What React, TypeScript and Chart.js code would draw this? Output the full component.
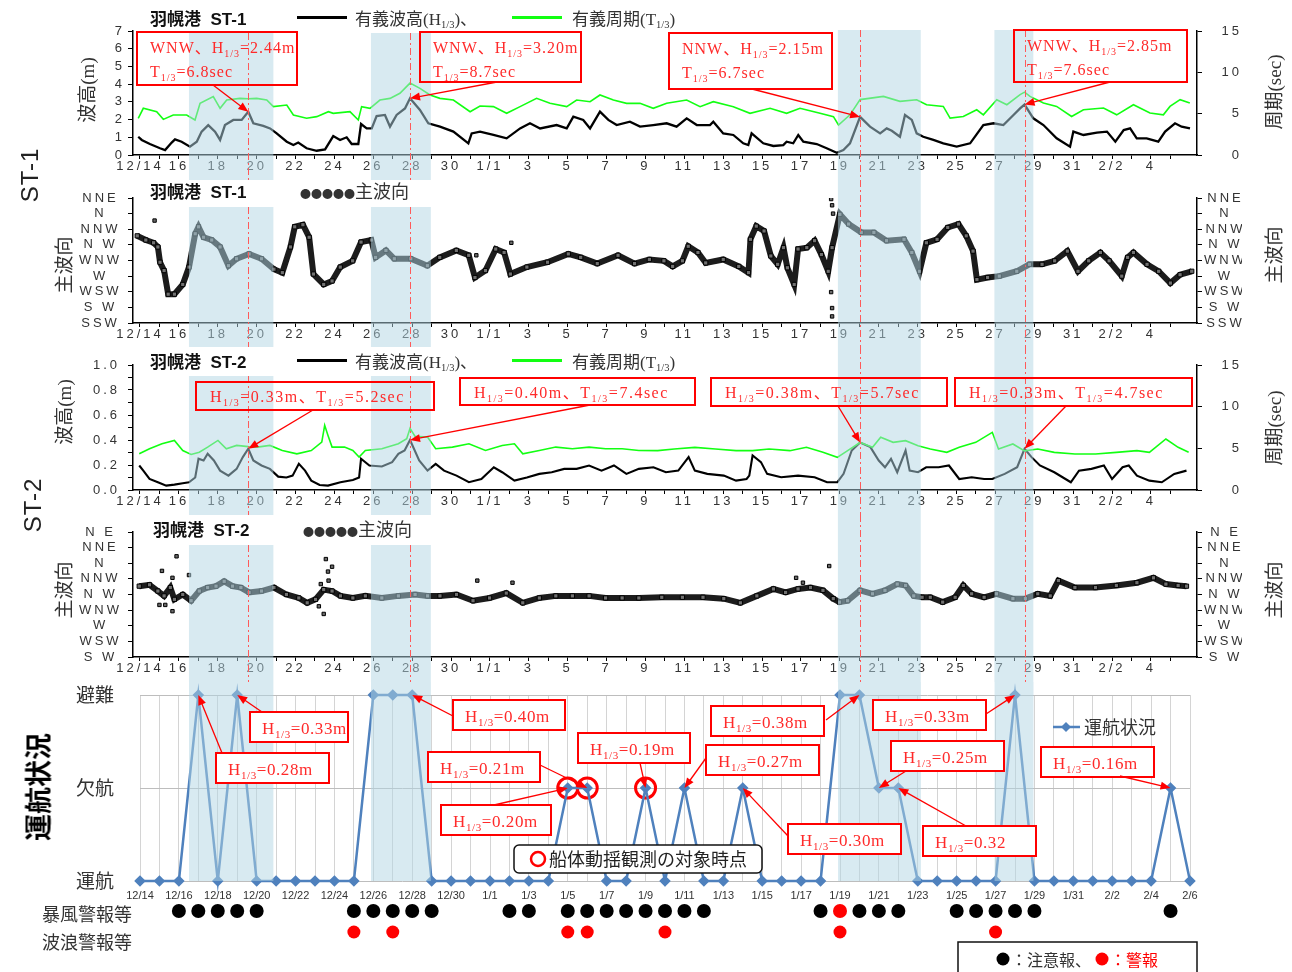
import React, { useEffect, useRef } from 'react';
import { Chart, registerables } from 'chart.js';

Chart.register(...registerables);

// ======================= DATA =======================
// x = days after 12/14 00:00

const st1WaveHeight: [number, number][] = [
  [-0.09,1.03],[0.09,0.85],[0.51,0.62],[1.03,0.38],[1.29,0.28],[1.63,0.70],[1.80,0.88],[2.14,0.75],[2.57,0.47],[2.92,0.75],
  [3.17,1.32],[3.51,1.69],[3.86,1.32],[4.12,0.85],[4.37,1.69],[4.80,1.98],[5.23,1.98],[5.57,2.44],[5.83,1.79],[6.34,1.64],
  [6.69,1.50],[7.03,1.22],[7.55,0.75],[7.89,0.56],[8.14,0.70],[8.57,0.38],[9.09,0.24],[9.52,0.32],[9.94,1.07],[10.29,0.85],
  [10.63,1.00],[10.89,0.62],[11.23,0.62],[11.37,1.75],[11.66,1.50],[11.92,1.50],[12.17,2.20],[12.60,2.26],[12.86,1.60],[13.20,2.26],
  [13.63,2.63],[13.89,3.20],[14.40,2.54],[14.83,1.79],[15.43,1.60],[16.12,1.32],[16.89,0.66],[17.06,1.22],[17.49,1.32],[18.18,1.13],
  [18.86,0.94],[19.55,1.50],[20.06,1.79],[20.58,1.50],[21.43,1.69],[21.95,1.50],[22.29,2.16],[22.80,1.98],[23.15,1.50],[23.66,2.45],
  [24.09,1.98],[24.52,1.69],[25.20,1.88],[25.72,1.60],[26.40,1.69],[27.09,1.79],[27.60,1.60],[28.12,2.07],[28.64,1.69],[29.32,1.69],
  [29.49,1.88],[30.00,1.22],[30.52,1.13],[31.03,0.66],[31.29,0.56],[31.46,1.22],[32.06,0.66],[32.58,0.51],[33.09,0.56],[33.26,0.75],
  [33.60,0.66],[33.86,1.13],[34.12,0.75],[34.81,0.62],[35.32,0.38],[35.84,0.13],[36.18,0.28],[36.52,0.66],[37.04,2.15],[37.55,1.60],
  [38.07,1.22],[38.41,1.50],[38.67,1.37],[39.09,1.03],[39.35,2.26],[39.70,1.98],[39.95,1.22],[40.29,1.03],[40.81,0.85],[41.32,0.66],
  [42.01,0.47],[42.70,0.66],[43.38,1.69],[43.90,1.79],[44.41,1.69],[44.93,2.26],[45.27,2.63],[45.50,2.85],[45.95,2.07],[46.47,1.69],
  [47.15,0.94],[47.84,0.47],[48.01,1.32],[48.53,1.13],[49.22,1.26],[49.74,1.32],[50.17,0.75],[50.60,1.41],[50.93,1.50],[51.27,0.94],
  [51.78,0.94],[52.38,0.75],[52.73,1.32],[53.24,1.79],[53.58,1.60],[54.01,1.50],
];

const st1WavePeriod: [number, number][] = [
  [-0.09,4.44],[0.17,5.65],[0.86,5.24],[1.20,4.31],[1.71,4.84],[2.40,4.84],[2.83,4.23],[3.09,6.25],[3.77,7.06],[4.12,5.65],
  [4.46,6.65],[5.14,6.85],[5.57,6.8],[6.00,6.85],[6.52,6.65],[6.86,5.85],[7.55,6.05],[7.89,4.84],[8.57,4.44],[9.09,4.64],
  [9.69,5.24],[9.94,5.04],[10.80,5.24],[11.23,4.23],[11.40,5.85],[11.83,5.65],[12.34,6.65],[12.86,6.85],[13.37,7.46],[13.89,8.7],
  [14.40,8.06],[14.92,7.26],[15.43,6.85],[16.12,6.65],[16.98,5.24],[17.49,5.93],[18.18,5.85],[18.86,5.04],[19.55,5.85],[20.40,6.85],
  [21.09,6.25],[21.95,5.85],[22.46,6.65],[23.15,6.45],[23.66,7.26],[24.35,6.65],[25.03,6.25],[25.72,6.25],[26.40,5.65],[27.09,6.25],
  [28.12,6.65],[28.81,5.85],[29.49,6.45],[30.52,5.85],[31.38,5.04],[32.41,5.65],[33.26,5.04],[33.95,5.65],[34.98,5.04],[35.67,4.64],
  [35.93,3.63],[36.52,4.86],[37.04,6.7],[38.24,7.09],[39.09,6.49],[39.95,6.69],[40.46,6.08],[41.32,5.88],[41.67,4.46],[42.35,4.66],
  [43.04,5.47],[43.38,4.86],[44.07,6.69],[44.59,6.08],[45.27,7.3],[45.50,7.6],[45.78,7.09],[46.47,6.28],[47.15,5.88],[47.92,4.66],
  [48.53,5.47],[49.56,5.68],[50.24,4.86],[51.10,6.08],[51.95,5.07],[52.64,4.86],[52.98,5.88],[53.50,6.69],[54.00,6.28],
];

// main wave direction in degrees (N = 360, NNE = 382.5)
const st1Direction: [number, number][] = [
  [-0.14,328],[0.3,322],[0.7,318],[0.92,312],[1.03,290],[1.24,278],[1.45,244],[1.77,244],[2.2,258],[2.52,283],
  [2.84,331],[3.01,341],[3.27,326],[3.69,322],[4.12,312],[4.55,285],[4.97,295],[5.61,302],[6.25,295],[6.89,280],
  [7.32,275],[7.74,312],[7.96,341],[8.38,344],[8.7,326],[8.92,273],[9.45,258],[9.88,263],[10.3,283],[10.94,292],
  [11.37,319],[11.9,322],[12.12,297],[12.65,307],[13.08,295],[13.93,295],[14.78,285],[15.42,297],[16.27,307],[16.91,300],
  [17.23,268],[17.77,278],[18.3,309],[18.73,304],[19.05,273],[19.9,283],[20.96,290],[22.03,302],[22.67,297],[23.52,288],
  [24.59,300],[25.44,288],[26.2,294],[26.95,292],[27.4,284],[27.9,292],[28.2,313],[28.7,304],[29.1,289],[30.0,294],
  [30.8,284],[31.3,275],[31.4,323],[31.7,342],[32.1,335],[32.45,299],[32.8,287],[33.1,311],[33.3,282],[33.65,258],
  [33.85,309],[34.3,311],[34.7,321],[35.05,301],[35.4,277],[35.6,311],[36.0,359],[36.45,345],[37.1,333],[37.75,333],
  [38.4,321],[39.3,323],[39.7,304],[40.1,277],[40.45,318],[41.0,323],[41.55,340],[42.1,345],[42.5,328],[42.85,306],
  [43.05,265],[43.6,268],[44.2,270],[45.1,277],[45.75,287],[46.4,287],[47.05,292],[47.7,306],[48.25,277],[48.8,292],
  [49.4,304],[49.85,292],[50.5,270],[50.8,297],[51.1,304],[51.8,287],[52.4,277],[53.0,260],[53.5,272],[54.1,277],
];
const st1DirectionScatter: [number, number][] = [
  [35.55,381],[35.6,372],[35.65,360],[35.55,247],[35.6,224],[35.6,212],[0.75,350],[19.1,318],[17.3,300],
];

const st2WaveHeight: [number, number][] = [
  [-0.04,0.196],[0.17,0.155],[0.49,0.088],[0.92,0.062],[1.35,0.035],[1.77,0.043],[2.20,0.054],[2.52,0.062],[2.84,0.10],[3.01,0.25],
  [3.27,0.236],[3.48,0.29],[3.80,0.236],[4.12,0.155],[4.55,0.115],[4.97,0.169],[5.29,0.263],[5.57,0.33],[5.83,0.236],[6.25,0.196],
  [6.68,0.169],[7.11,0.107],[7.53,0.10],[7.85,0.115],[8.17,0.209],[8.49,0.155],[8.81,0.075],[9.24,0.04],[9.67,0.035],[10.31,0.062],
  [10.95,0.08],[11.27,0.10],[11.37,0.25],[11.80,0.196],[12.44,0.188],[12.97,0.223],[13.29,0.29],[13.61,0.316],[13.89,0.40],[14.36,0.236],
  [14.79,0.155],[15.21,0.209],[15.64,0.155],[16.28,0.115],[16.92,0.062],[17.56,0.088],[18.20,0.182],[18.63,0.142],[19.26,0.075],[19.90,0.10],
  [20.54,0.129],[21.18,0.142],[21.82,0.169],[22.46,0.169],[23.10,0.196],[23.74,0.155],[24.38,0.196],[25.02,0.129],[25.66,0.169],[26.41,0.182],
  [27.05,0.142],[27.69,0.155],[28.22,0.263],[28.54,0.155],[29.18,0.129],[30.03,0.115],[30.66,0.075],[31.20,0.088],[31.34,0.115],[31.51,0.276],
  [31.94,0.223],[32.26,0.129],[32.98,0.102],[33.85,0.115],[34.70,0.102],[35.34,0.062],[35.87,0.062],[36.19,0.129],[36.61,0.316],[37.04,0.38],
  [37.57,0.343],[38.00,0.236],[38.32,0.182],[38.63,0.249],[38.95,0.142],[39.38,0.316],[39.59,0.155],[40.02,0.142],[40.44,0.182],[41.08,0.182],
  [41.61,0.196],[42.14,0.088],[42.78,0.102],[43.42,0.088],[43.84,0.088],[44.48,0.129],[45.12,0.182],[45.50,0.33],[45.86,0.263],[46.29,0.196],
  [47.03,0.142],[47.88,0.062],[48.30,0.155],[48.94,0.169],[49.58,0.196],[50.00,0.088],[50.54,0.182],[50.86,0.196],[51.28,0.115],[51.92,0.075],
  [52.56,0.062],[53.20,0.129],[53.83,0.155],
];

const st2WavePeriod: [number, number][] = [
  [-0.04,4.34],[0.49,4.95],[1.13,5.55],[1.77,5.95],[2.20,4.74],[2.63,4.26],[3.05,4.54],[3.48,5.15],[4.01,5.95],[4.44,4.95],
  [4.97,5.35],[5.57,5.2],[6.04,5.15],[6.68,5.35],[7.32,4.74],[8.07,4.34],[8.81,4.74],[9.35,5.75],[9.50,7.76],[9.67,6.55],
  [9.88,5.15],[10.52,5.15],[10.95,4.74],[11.27,3.94],[11.59,4.74],[12.44,4.95],[13.29,5.55],[13.72,6.15],[13.89,7.4],[14.15,6.43],
  [14.79,6.35],[15.21,4.95],[16.07,5.15],[16.92,5.55],[17.77,4.74],[18.63,5.35],[19.26,5.55],[19.69,4.34],[20.54,4.74],[21.39,5.15],
  [22.24,4.95],[23.10,5.15],[23.95,4.95],[24.80,4.95],[25.66,4.74],[26.63,4.72],[27.48,4.92],[28.54,5.12],[29.60,4.92],[30.66,4.72],
  [31.51,4.72],[32.36,4.92],[33.43,4.72],[34.28,5.12],[35.13,4.52],[35.87,3.92],[36.40,4.72],[37.04,5.7],[37.68,5.12],[38.10,6.32],
  [38.74,5.72],[39.38,5.92],[40.02,5.32],[40.65,4.92],[41.50,4.52],[42.14,5.12],[42.99,5.72],[43.84,6.92],[44.16,4.92],[44.90,5.52],
  [45.50,4.7],[46.18,4.92],[47.03,4.52],[48.09,4.32],[49.15,4.32],[50.22,4.52],[51.28,4.72],[51.92,4.52],[52.77,6.12],[53.40,5.12],
  [53.94,4.52],
];

const st2Direction: [number, number][] = [
  [-0.04,327],[0.49,329],[0.92,320],[1.24,313],[1.56,325],[1.77,308],[2.2,315],[2.63,306],[3.05,320],[3.48,325],
  [3.91,327],[4.33,334],[4.76,327],[5.19,325],[5.61,318],[6.25,320],[6.89,325],[7.53,315],[8.17,310],[8.6,303],
  [9.03,308],[9.45,322],[9.88,320],[10.31,313],[10.95,310],[11.59,313],[12.44,310],[13.29,313],[14.15,315],[14.79,313],
  [15.43,313],[16.28,315],[17.13,306],[17.98,310],[18.84,317],[19.69,303],[20.54,310],[21.39,313],[22.24,313],[23.1,313],
  [23.95,310],[24.8,310],[25.66,310],[26.84,311],[27.9,311],[28.96,311],[30.03,309],[30.88,303],[31.73,313],[32.58,323],
  [33.21,318],[33.85,323],[34.49,325],[35.13,321],[35.66,309],[35.98,304],[36.4,306],[37.04,321],[37.68,316],[38.32,321],
  [38.95,330],[39.38,328],[39.8,313],[40.23,311],[40.65,311],[41.29,304],[41.93,311],[42.35,328],[42.78,316],[43.42,311],
  [44.05,316],[44.9,309],[45.54,309],[46.18,316],[46.82,313],[47.24,335],[48.09,325],[49.15,325],[50.22,328],[51.28,332],
  [52.13,339],[52.77,330],[53.4,328],[53.83,327],
];
const st2DirectionScatter: [number, number][] = [
  [1.88,370],[1.13,349],[1.67,339],[2.52,343],[1.67,291],[1.3,300],[9.56,366],[9.88,355],[9.67,348],[9.45,287],
  [9.3,330],[9.7,335],[17.35,335],[19.16,332],[35.45,356],[33.75,339],[34.1,332],[1.0,300],[9.2,298],
];

// annotated peaks
const st1Peaks = [
  { day: 5.57, dir: 'WNW', h: 2.44, t: 6.8 },
  { day: 13.89, dir: 'WNW', h: 3.20, t: 8.7 },
  { day: 37.04, dir: 'NNW', h: 2.15, t: 6.7 },
  { day: 45.5, dir: 'WNW', h: 2.85, t: 7.6 },
];
const st2Peaks = [
  { day: 5.57, h: 0.33, t: 5.2 },
  { day: 13.89, h: 0.40, t: 7.4 },
  { day: 37.04, h: 0.38, t: 5.7 },
  { day: 45.5, h: 0.33, t: 4.7 },
];

// highlighted periods (days)
const shadeSpans = [[2.52, 6.86], [11.88, 14.96], [35.9, 40.16], [43.95, 45.95]];

// tick labels
const axisTickLabels = ['12/14','','16','','18','','20','','22','','24','','26','','28','','30','','1/1','','3','','5','','7','','9','','11','','13','','15','','17','','19','','21','','23','','25','','27','','29','','31','','2/2','','4',''];
const st1HeightTicks = [0, 1, 2, 3, 4, 5, 6, 7];
const st2HeightTicks = [0, 0.1, 0.2, 0.3, 0.4, 0.5, 0.6, 0.7, 0.8, 0.9, 1.0];
const periodTicks = [0, 5, 10, 15];
const st1DirLabels = ['SSW', 'S W', 'WSW', 'W', 'WNW', 'N W', 'NNW', 'N', 'NNE'];
const st2DirLabels = ['S W', 'WSW', 'W', 'WNW', 'N W', 'NNW', 'N', 'NNE', 'N E'];

// operation status
const opDates = ['12/14','12/15','12/16','12/17','12/18','12/19','12/20','12/21','12/22','12/23','12/24','12/25','12/26','12/27','12/28','12/29','12/30','12/31','1/1','1/2','1/3','1/4','1/5','1/6','1/7','1/8','1/9','1/10','1/11','1/12','1/13','1/14','1/15','1/16','1/17','1/18','1/19','1/20','1/21','1/22','1/23','1/24','1/25','1/26','1/27','1/28','1/29','1/30','1/31','2/1','2/2','2/3','2/4','2/5','2/6'];
const opLevels = ['運航', '欠航', '避難'];
const opStatus = [0,0,0,2,0,2,0,0,0,0,0,0,2,2,2,0,0,0,0,0,0,0,1,1,0,0,1,0,1,0,0,1,0,0,0,0,2,2,1,1,0,0,0,0,0,2,0,0,0,0,0,0,0,1,0];
const observedDates = ['1/5', '1/6', '1/9'];
const stormAdvisory = ['12/16','12/17','12/18','12/19','12/20','12/25','12/26','12/27','12/28','12/29','1/2','1/3','1/5','1/6','1/7','1/8','1/9','1/10','1/11','1/12','1/18','1/20','1/21','1/22','1/25','1/26','1/27','1/28','1/29','2/5'];
const stormWarning = ['1/19'];
const waveWarning = ['12/25','12/27','1/5','1/6','1/10','1/19','1/27'];
const opNotes = [
  { date: '12/17', h: '0.28m' }, { date: '12/19', h: '0.33m' }, { date: '12/28', h: '0.40m' },
  { date: '1/5', h: '0.20m' }, { date: '1/6', h: '0.21m' }, { date: '1/9', h: '0.19m' },
  { date: '1/11', h: '0.27m' }, { date: '1/14', h: '0.30m' }, { date: '1/20', h: '0.38m' },
  { date: '1/21', h: '0.25m' }, { date: '1/22', h: '0.32' }, { date: '1/28', h: '0.33m' },
  { date: '2/5', h: '0.16m' },
];

// ======================= LAYOUT =======================
const W = 1292;
const X_MIN = -0.36;
const X_MAX = 54.37;
const RED = '#ff0000';
const TEXT_RED = '#ff2a2a';
const SHADE = 'rgba(178, 214, 228, 0.5)';
const OP_BLUE = '#4f81bd';
const SANS_T = '"Liberation Sans", Arial, sans-serif';
const CJK = '"Noto Sans CJK JP", sans-serif';
const SERIF_MIX = '"Liberation Serif", "Noto Sans CJK JP", serif';

// [x, y, w, h, arrowFromX, arrowFromY] (page px)
const st1Boxes = [[137, 32, 160, 53, 213, 85], [420, 32, 161, 50, 497, 82], [669, 33, 163, 56, 752, 89], [1014, 30, 173, 52, 1110, 82]];
const st2Boxes = [[196, 382, 238, 28, 313, 410], [460, 378, 235, 27, 590, 405], [711, 378, 236, 28, 838, 406], [955, 378, 237, 28, 1066, 406]];
const opBoxes = [
  [216, 753, 113, 30, 222, 753], [250, 712, 98, 30, 262, 712], [453, 700, 112, 30, 453, 716],
  [441, 805, 110, 30, 494, 805], [428, 752, 112, 30, 540, 765], [578, 733, 112, 30, 640, 763],
  [706, 745, 113, 30, 706, 758], [788, 824, 113, 30, 788, 836], [711, 706, 113, 30, 826, 720],
  [891, 741, 113, 30, 906, 771], [923, 826, 113, 30, 966, 826], [873, 700, 113, 30, 986, 714],
  [1041, 747, 113, 30, 1120, 776],
];

// ======================= HELPERS =======================
function drawRich(ctx: any, text: string, x: number, y: number, size: number, spacing: number) {
  const parts = text.split(/(\{[^}]*\})/).filter((p) => p.length > 0);
  let cx = x;
  ctx.textAlign = 'left';
  ctx.textBaseline = 'alphabetic';
  ctx.letterSpacing = spacing + 'px';
  for (const p of parts) {
    const sub = p[0] === '{';
    const t = sub ? p.slice(1, -1) : p;
    const fs = sub ? Math.round(size * 0.62) : size;
    ctx.font = `${fs}px ${SERIF_MIX}`;
    ctx.fillText(t, cx, y + (sub ? size * 0.25 : 0));
    cx += ctx.measureText(t).width;
  }
  ctx.letterSpacing = '0px';
}

function drawArrow(ctx: any, x1: number, y1: number, x2: number, y2: number) {
  const a = Math.atan2(y2 - y1, x2 - x1);
  const L = 10, H = 4;
  ctx.strokeStyle = RED;
  ctx.fillStyle = RED;
  ctx.lineWidth = 1.3;
  ctx.beginPath();
  ctx.moveTo(x1, y1);
  ctx.lineTo(x2 - L * 0.8 * Math.cos(a), y2 - L * 0.8 * Math.sin(a));
  ctx.stroke();
  ctx.beginPath();
  ctx.moveTo(x2, y2);
  ctx.lineTo(x2 - L * Math.cos(a) + H * Math.sin(a), y2 - L * Math.sin(a) - H * Math.cos(a));
  ctx.lineTo(x2 - L * Math.cos(a) - H * Math.sin(a), y2 - L * Math.sin(a) + H * Math.cos(a));
  ctx.closePath();
  ctx.fill();
}

type Decor = {
  bandTop: number;
  spacing: string;
  shades: { span: number[]; y1: number; y2: number }[];
  dashes: { day: number; y1: number; y2: number }[];
  extra?: (chart: any, ctx: any, top: number) => void;
};

function decorPlugin(d: Decor) {
  return {
    id: 'decor',
    beforeLayout(chart: any) { chart.ctx.letterSpacing = d.spacing; },
    beforeDraw(chart: any) { chart.ctx.letterSpacing = d.spacing; },
    afterDatasetsDraw(chart: any) {
      const ctx = chart.ctx;
      const xs = chart.scales.x;
      ctx.save();
      ctx.letterSpacing = '0px';
      ctx.fillStyle = SHADE;
      for (const s of d.shades) {
        const a = xs.getPixelForValue(s.span[0]);
        const b = xs.getPixelForValue(s.span[1]);
        ctx.fillRect(a, s.y1 - d.bandTop, b - a, s.y2 - s.y1);
      }
      ctx.strokeStyle = '#ff5a5a';
      ctx.lineWidth = 1;
      ctx.setLineDash([7, 3, 2, 3]);
      for (const l of d.dashes) {
        const x = Math.round(xs.getPixelForValue(l.day)) + 0.5;
        ctx.beginPath();
        ctx.moveTo(x, l.y1 - d.bandTop);
        ctx.lineTo(x, l.y2 - d.bandTop);
        ctx.stroke();
      }
      ctx.setLineDash([]);
      if (d.extra) d.extra(chart, ctx, d.bandTop);
      ctx.restore();
    },
  };
}

function panelShades(y1: number, y2: number, top: number, bottom: number) {
  return shadeSpans.map((s, i) => ({ span: s, y1: i < 2 ? y1 : top, y2: i < 2 ? y2 : bottom }));
}
function panelDashes(peaks: { day: number }[], y1: number, y2: number, top: number, bottom: number) {
  return peaks.map((p, i) => ({ day: p.day, y1: i < 2 ? y1 : top, y2: i < 2 ? y2 : bottom }));
}

const baseOptions = (padding: any) => ({
  responsive: false,
  maintainAspectRatio: false,
  animation: false,
  devicePixelRatio: 1,
  events: [],
  layout: { padding },
  plugins: { legend: { display: false }, tooltip: { enabled: false } },
});

const xAxisST = () => ({
  type: 'linear',
  position: 'bottom',
  min: X_MIN,
  max: X_MAX,
  afterBuildTicks: (s: any) => { s.ticks = axisTickLabels.map((_, i) => ({ value: i })); },
  afterFit: (s: any) => { s.height = 20; },
  grid: { display: true, drawOnChartArea: false, drawTicks: true, tickLength: 4, color: '#000' },
  border: { display: true, color: '#000', width: 1.5 },
  ticks: {
    autoSkip: false, maxRotation: 0, minRotation: 0, padding: 0, color: '#333',
    font: { family: SANS_T, size: 13 },
    callback: (v: number) => axisTickLabels[Math.round(v)] ?? '',
  },
});

const AXW = 70;
const yAxisST = (position: string, min: number, max: number, values: number[], label: (v: number) => string, crossAlign: string, padding: number, width = AXW) => ({
  type: 'linear',
  position,
  min,
  max,
  afterBuildTicks: (s: any) => { s.ticks = values.map((v) => ({ value: v })); },
  afterFit: (s: any) => { s.width = width; },
  grid: { display: true, drawOnChartArea: false, drawTicks: true, tickLength: 5, color: '#000' },
  border: { display: true, color: '#000', width: 1.5 },
  ticks: { autoSkip: false, crossAlign, padding, color: '#333', font: { family: SANS_T, size: 13 }, callback: label },
});

const lineDS = (pairs: [number, number][], color: string, width: number, axis: string) => ({
  data: pairs.map(([x, y]) => ({ x, y })),
  borderColor: color,
  backgroundColor: color,
  borderWidth: width,
  pointRadius: 0,
  tension: 0,
  fill: false,
  yAxisID: axis,
});

const dirDS = (pairs: [number, number][]) => ({
  data: pairs.map(([x, y]) => ({ x, y })),
  showLine: true,
  borderColor: '#1c1c1c',
  borderWidth: 6,
  pointStyle: 'rect',
  pointRadius: 3,
  pointBackgroundColor: '#707070',
  pointBorderColor: '#000',
  pointBorderWidth: 1,
  tension: 0,
  yAxisID: 'y',
});
const scatterDS = (pairs: [number, number][]) => ({
  data: pairs.map(([x, y]) => ({ x, y })),
  showLine: false,
  pointStyle: 'rect',
  pointRadius: 2.4,
  pointBackgroundColor: '#6a6a6a',
  pointBorderColor: '#000',
  pointBorderWidth: 1,
  yAxisID: 'y',
});

// chart area spans x = 133 .. 1197
const ST_PAD = { left: 133 - AXW, right: W - 1197 - 45 };

// ======================= CHART CONFIGS =======================
function cfgST1Wave() {
  const top = 0;
  return {
    type: 'line',
    data: { datasets: [lineDS(st1WavePeriod, '#12ff12', 1.6, 'y2'), lineDS(st1WaveHeight, '#000', 2.3, 'y')] },
    options: {
      ...baseOptions({ ...ST_PAD, top: 31, bottom: 5 }),
      scales: {
        x: xAxisST(),
        y: yAxisST('left', 0, 7, st1HeightTicks, (v) => String(v), 'near', 3),
        y2: yAxisST('right', 0, 15, periodTicks, (v) => String(v), 'far', 3, 45),
      },
    },
    plugins: [decorPlugin({
      bandTop: top, spacing: '3px',
      shades: panelShades(33, 180, 30, 180),
      dashes: panelDashes(st1Peaks, 33, 180, 30, 180),
      extra: (chart, ctx, t) => {
        const xs = chart.scales.x, ys = chart.scales.y;
        st1Peaks.forEach((p, i) => {
          const [bx, by, bw, bh, fx, fy] = st1Boxes[i];
          ctx.lineWidth = 2;
          ctx.strokeStyle = RED;
          ctx.strokeRect(bx, by - t, bw, bh);
          ctx.fillStyle = TEXT_RED;
          drawRich(ctx, `${p.dir}、H{1/3}=${p.h.toFixed(2)}m`, bx + 13, by - t + 21, 16, 1);
          ctx.fillStyle = TEXT_RED;
          drawRich(ctx, `T{1/3}=${p.t.toFixed(1)}sec`, bx + 13, by - t + 45, 16, 1);
          drawArrow(ctx, fx, fy - t, xs.getPixelForValue(p.day), ys.getPixelForValue(p.h));
        });
      },
    })],
  };
}

function cfgDir(top: number, padTop: number, padBottom: number, dir: [number, number][], scat: [number, number][], labels: string[], min: number, peaks: any[], s1: number, s2: number) {
  const vals = labels.map((_, i) => min + 22.5 * i);
  const lab = (v: number) => labels[Math.round((v - min) / 22.5)] ?? '';
  return {
    type: 'line',
    data: { datasets: [scatterDS(scat), dirDS(dir)] },
    options: {
      ...baseOptions({ ...ST_PAD, top: padTop, bottom: padBottom }),
      scales: {
        x: xAxisST(),
        y: yAxisST('left', min, min + 180, vals, lab, 'center', 6),
        yR: yAxisST('right', min, min + 180, vals, lab, 'center', 2, 45),
      },
    },
    plugins: [decorPlugin({
      bandTop: top, spacing: '3px',
      shades: panelShades(s1, s2, top, s2),
      dashes: panelDashes(peaks, s1, s2, top, s2),
    })],
  };
}

function cfgST2Wave() {
  const top = 347;
  return {
    type: 'line',
    data: { datasets: [lineDS(st2WavePeriod, '#12ff12', 1.6, 'y2'), lineDS(st2WaveHeight, '#000', 2.1, 'y')] },
    options: {
      ...baseOptions({ ...ST_PAD, top: 18, bottom: 5 }),
      scales: {
        x: xAxisST(),
        y: yAxisST('left', 0, 1, st2HeightTicks, (v) => (Math.round(v * 10) % 2 === 0 ? v.toFixed(1) : ''), 'near', 8),
        y2: yAxisST('right', 0, 15, periodTicks, (v) => String(v), 'far', 3, 45),
      },
    },
    plugins: [decorPlugin({
      bandTop: top, spacing: '3px',
      shades: panelShades(376, 515, 347, 515),
      dashes: panelDashes(st2Peaks, 376, 515, 347, 515),
      extra: (chart, ctx, t) => {
        const xs = chart.scales.x, ys = chart.scales.y;
        st2Peaks.forEach((p, i) => {
          const [bx, by, bw, bh, fx, fy] = st2Boxes[i];
          ctx.lineWidth = 2;
          ctx.strokeStyle = RED;
          ctx.strokeRect(bx, by - t, bw, bh);
          ctx.fillStyle = TEXT_RED;
          drawRich(ctx, `H{1/3}=${p.h.toFixed(2)}m、T{1/3}=${p.t.toFixed(1)}sec`, bx + 14, by - t + 20, 16, 1.5);
          drawArrow(ctx, fx, fy - t, xs.getPixelForValue(p.day), ys.getPixelForValue(p.h));
        });
      },
    })],
  };
}

function cfgOp() {
  const top = 682;
  return {
    type: 'line',
    data: {
      labels: opDates,
      datasets: [
        {
          data: opStatus, borderColor: OP_BLUE, backgroundColor: OP_BLUE, borderWidth: 2.5,
          pointStyle: 'rectRot', pointRadius: 4, pointBackgroundColor: OP_BLUE, pointBorderColor: OP_BLUE,
          tension: 0, clip: false,
        },
        {
          data: opDates.map((d, i) => (observedDates.includes(d) ? opStatus[i] : null)),
          showLine: false, pointStyle: 'circle', pointRadius: 10, pointBorderWidth: 3,
          pointBorderColor: '#ff0000', pointBackgroundColor: 'rgba(255,255,255,0)', clip: false,
        },
      ],
    },
    options: {
      ...baseOptions({ left: 76, right: 102, top: 12, bottom: 71 }),
      scales: {
        x: {
          type: 'category',
          afterFit: (s: any) => { s.height = 20; },
          grid: { color: '#d4d4d4', drawTicks: false, offset: false },
          border: { display: false },
          ticks: {
            autoSkip: false, maxRotation: 0, padding: 8, color: '#333',
            font: { family: SANS_T, size: 11 },
            callback: (_v: any, i: number) => (i % 2 === 0 ? opDates[i] : ''),
          },
        },
        y: {
          min: 0, max: 2,
          afterBuildTicks: (s: any) => { s.ticks = opLevels.map((_, i) => ({ value: i })); },
          afterFit: (s: any) => { s.width = 140 - 76; },
          grid: { color: '#bdbdbd', drawTicks: false },
          border: { display: false },
          ticks: { padding: 0, crossAlign: 'far', color: '#333', font: { family: CJK, size: 19 }, callback: (v: number) => opLevels[v] },
        },
      },
    },
    plugins: [decorPlugin({
      bandTop: top, spacing: '0px',
      shades: shadeSpans.map((s) => ({ span: s, y1: 682, y2: 881 })),
      dashes: [],
      extra: (chart, ctx, t) => {
        const xs = chart.scales.x, ys = chart.scales.y;
        const px = (d: string) => xs.getPixelForValue(opDates.indexOf(d));
        const dot = (x: number, y: number, r: number, c: string) => {
          ctx.fillStyle = c; ctx.beginPath(); ctx.arc(x, y, r, 0, Math.PI * 2); ctx.fill();
        };
        stormAdvisory.forEach((d) => dot(px(d), 911 - t, 7, '#000'));
        stormWarning.forEach((d) => dot(px(d), 911 - t, 7, '#ff0000'));
        waveWarning.forEach((d) => dot(px(d), 932 - t, 6.5, '#ff0000'));
        opNotes.forEach((n, i) => {
          const [bx, by, bw, bh, fx, fy] = opBoxes[i];
          ctx.fillStyle = '#fff';
          ctx.fillRect(bx, by - t, bw, bh);
          ctx.lineWidth = 2;
          ctx.strokeStyle = RED;
          ctx.strokeRect(bx, by - t, bw, bh);
          ctx.fillStyle = TEXT_RED;
          drawRich(ctx, `H{1/3}=${n.h}`, bx + 12, by - t + 22, 17, 0.6);
          const idx = opDates.indexOf(n.date);
          drawArrow(ctx, fx, fy - t, xs.getPixelForValue(idx), ys.getPixelForValue(opStatus[idx]));
        });
        ctx.strokeStyle = OP_BLUE; ctx.lineWidth = 2.5;
        ctx.beginPath(); ctx.moveTo(1053, 727 - t); ctx.lineTo(1080, 727 - t); ctx.stroke();
        ctx.fillStyle = OP_BLUE;
        ctx.beginPath(); ctx.moveTo(1066, 722 - t); ctx.lineTo(1071, 727 - t); ctx.lineTo(1066, 732 - t); ctx.lineTo(1061, 727 - t); ctx.closePath(); ctx.fill();
        ctx.fillStyle = '#333'; ctx.font = `18px ${CJK}`; ctx.textBaseline = 'middle'; ctx.textAlign = 'left';
        ctx.fillText('運航状況', 1084, 727 - t);
        ctx.fillStyle = '#fff'; ctx.strokeStyle = '#111'; ctx.lineWidth = 1.5;
        ctx.beginPath(); (ctx as any).roundRect(514, 845 - t, 248, 28, 5); ctx.fill(); ctx.stroke();
        ctx.strokeStyle = '#ff0000'; ctx.lineWidth = 2.5;
        ctx.beginPath(); ctx.arc(538, 859 - t, 7, 0, Math.PI * 2); ctx.stroke();
        ctx.fillStyle = '#222'; ctx.font = `18px ${CJK}`;
        ctx.fillText('船体動揺観測の対象時点', 549, 859 - t);
        ctx.strokeStyle = '#111'; ctx.lineWidth = 1.5;
        ctx.strokeRect(958, 942 - t, 239, 40);
        dot(1003, 959 - t, 6.5, '#000');
        ctx.fillStyle = '#333'; ctx.font = `16px ${CJK}`;
        ctx.fillText('：注意報、', 1011, 960 - t);
        dot(1102, 959 - t, 6.5, '#ff0000');
        ctx.fillStyle = '#ff0000';
        ctx.fillText('：警報', 1110, 960 - t);
      },
    })],
  };
}

// ======================= HTML TEXT =======================
const abs = (x: number, y: number, extra: any = {}) => ({
  position: 'absolute', left: x, top: y, transform: 'translateY(-50%)', whiteSpace: 'nowrap', lineHeight: 1, ...extra,
});
const rot = (x: number, y: number, extra: any = {}) => ({
  position: 'absolute', left: x, top: y, transform: 'translate(-50%, -50%) rotate(-90deg)', whiteSpace: 'nowrap', lineHeight: 1, ...extra,
});
const subStyle = { fontSize: '0.62em', verticalAlign: '-0.3em', lineHeight: 0 };
const titleStyle = { font: `bold 17px "Liberation Sans", "Noto Sans CJK JP", sans-serif`, color: '#111' };
const legStyle = { font: `17px ${SERIF_MIX}`, color: '#333' };
const axTitle = { font: `19px ${SERIF_MIX}`, color: '#333' };

function WaveLegend({ y }: { y: number }) {
  return (
    <>
      <div style={{ position: 'absolute', left: 297, top: y - 1.5, width: 50, height: 3, background: '#000' }} />
      <div style={abs(355, y, legStyle) as any}>有義波高(H<sub style={subStyle as any}>1/3</sub>)、</div>
      <div style={{ position: 'absolute', left: 512, top: y - 1.5, width: 50, height: 3, background: '#12ff12' }} />
      <div style={abs(572, y, legStyle) as any}>有義周期(T<sub style={subStyle as any}>1/3</sub>)</div>
    </>
  );
}
function DirLegend({ x, y }: { x: number; y: number }) {
  return (
    <div style={abs(x, y, { font: `18px ${CJK}`, color: '#333' }) as any}>
      <span style={{ fontSize: 11, letterSpacing: 0 }}>●●●●●</span>主波向
    </div>
  );
}

export default function App() {
  const r1 = useRef<HTMLCanvasElement>(null);
  const r2 = useRef<HTMLCanvasElement>(null);
  const r3 = useRef<HTMLCanvasElement>(null);
  const r4 = useRef<HTMLCanvasElement>(null);
  const r5 = useRef<HTMLCanvasElement>(null);

  useEffect(() => {
    const charts = [
      new Chart(r1.current as any, cfgST1Wave() as any),
      new Chart(r2.current as any, cfgDir(180, 18, 4, st1Direction, st1DirectionScatter, st1DirLabels, 202.5, st1Peaks, 207, 347) as any),
      new Chart(r3.current as any, cfgST2Wave() as any),
      new Chart(r4.current as any, cfgDir(515, 17, 5, st2Direction, st2DirectionScatter, st2DirLabels, 225, st2Peaks, 545, 682) as any),
      new Chart(r5.current as any, cfgOp() as any),
    ];
    return () => charts.forEach((c) => c.destroy());
  }, []);

  const cv = (ref: any, top: number, h: number) => (
    <canvas ref={ref} width={W} height={h} style={{ position: 'absolute', left: 0, top, width: W, height: h, display: 'block' }} />
  );

  return (
    <div style={{ position: 'absolute', left: 0, top: 0, width: W, height: 972, overflow: 'hidden', background: '#fff' }}>
      {cv(r1, 0, 180)}
      {cv(r2, 180, 167)}
      {cv(r3, 347, 168)}
      {cv(r4, 515, 167)}
      {cv(r5, 682, 290)}

      <div style={abs(150, 17, titleStyle) as any}>羽幌港&nbsp;&nbsp;ST-1</div>
      <WaveLegend y={17} />
      <div style={abs(150, 190, titleStyle) as any}>羽幌港&nbsp;&nbsp;ST-1</div>
      <DirLegend x={300} y={190} />
      <div style={abs(150, 360, titleStyle) as any}>羽幌港&nbsp;&nbsp;ST-2</div>
      <WaveLegend y={360} />
      <div style={abs(153, 528, titleStyle) as any}>羽幌港&nbsp;&nbsp;ST-2</div>
      <DirLegend x={303} y={528} />

      <div style={rot(85, 90, axTitle) as any}>波高(m)</div>
      <div style={rot(1272, 92, axTitle) as any}>周期(sec)</div>
      <div style={rot(62, 265, axTitle) as any}>主波向</div>
      <div style={rot(1272, 255, axTitle) as any}>主波向</div>
      <div style={rot(62, 412, axTitle) as any}>波高(m)</div>
      <div style={rot(1272, 428, axTitle) as any}>周期(sec)</div>
      <div style={rot(62, 590, axTitle) as any}>主波向</div>
      <div style={rot(1272, 590, axTitle) as any}>主波向</div>

      <div style={rot(30, 175, { font: `24px "Liberation Sans", sans-serif`, color: '#222', letterSpacing: 1 }) as any}>ST-1</div>
      <div style={rot(33, 505, { font: `24px "Liberation Sans", sans-serif`, color: '#222', letterSpacing: 1 }) as any}>ST-2</div>
      <div style={rot(37, 787, { font: `bold 27px ${CJK}`, color: '#000' }) as any}>運航状況</div>

      <div style={abs(42, 913, { font: `18px ${CJK}`, color: '#333' }) as any}>暴風警報等</div>
      <div style={abs(42, 941, { font: `18px ${CJK}`, color: '#333' }) as any}>波浪警報等</div>
    </div>
  );
}
